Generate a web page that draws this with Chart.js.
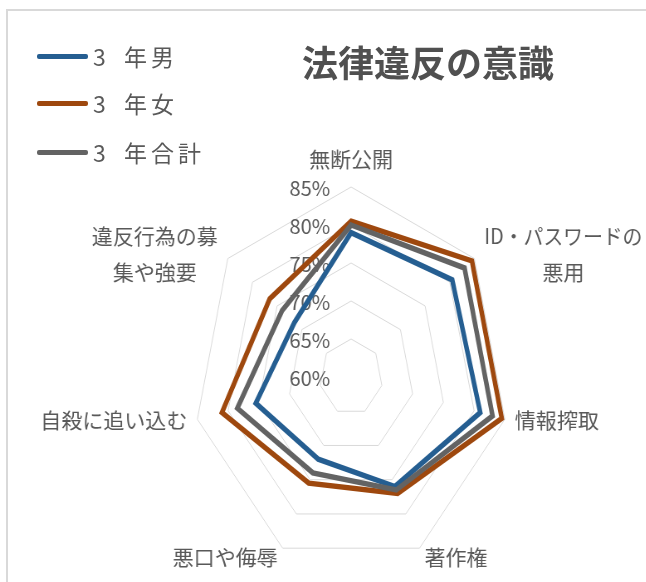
<!DOCTYPE html>
<html>
<head>
<meta charset="utf-8">
<script src="https://cdn.jsdelivr.net/npm/chart.js@4"></script>
<style>
  body { margin: 0; background: #fff; font-family: "Noto Sans CJK JP", sans-serif; }
  #page { position: relative; width: 646px; height: 582px; overflow: hidden; background: #fff; }
  #frame { position: absolute; left: 6px; top: 9px; width: 700px; height: 640px;
           border-top: 2px solid #d9d9d9; border-left: 2px solid #d9d9d9; }
  #wrap { position: absolute; left: 0; top: 0; width: 778px; height: 582px;
          transform: scaleX(0.83); transform-origin: 0 0; }
  #title { position: absolute; left: 228px; width: 400px; top: 41px; text-align: center;
           font-size: 36px; font-weight: bold; color: #505050; line-height: 40px; }
  .item { position: absolute; left: 37px; height: 30px; white-space: nowrap; }
  .item i { position: absolute; left: 0; top: 13px; width: 51px; height: 5px; border-radius: 2px; }
  .item span { position: absolute; left: 56px; top: 0; font-size: 23px; line-height: 30px;
               letter-spacing: 4px; word-spacing: 5px; color: #595959; }
</style>
</head>
<body>
<div id="page">
  <div id="frame"></div>
  <div id="wrap"><canvas id="radar"></canvas></div>
  <div id="title">法律違反の意識</div>
  <div id="legend"></div>
</div>
<script>
// horizontal squeeze of the plot (the reference heptagon is narrower than tall)
const SX = 0.83;

// categories, clockwise from the top
const categories = [
  '無断公開',
  ['ID・パスワードの', '悪用'],
  '情報搾取',
  '著作権',
  '悪口や侮辱',
  '自殺に追い込む',
  ['違反行為の募', '集や強要']
];
const tickValues = [60, 65, 70, 75, 80, 85];

const seriesNames = ['3 年男', '3 年女', '3 年合計'];
const boys  = [79, 80.5, 81, 76, 72, 75.5, 71.5];
const girls = [80.5, 84.5, 84.5, 77, 75.5, 81, 76.5];
const total = [80, 83, 83, 76.5, 74, 78.5, 74];
const colors = ['#255e91', '#9e480e', '#636363'];

// legend (html)
const legendTops = [41, 88, 137];
seriesNames.forEach((name, i) => {
  const d = document.createElement('div');
  d.className = 'item';
  d.style.top = legendTops[i] + 'px';
  d.innerHTML = '<i style="background:' + colors[i] + '"></i><span>' + name + '</span>';
  document.getElementById('legend').appendChild(d);
});

// draws tick labels and category labels without the horizontal squeeze
const labelPlugin = {
  id: 'radarText',
  beforeDatasetsDraw(chart) {
    const r = chart.scales.r;
    const ctx = chart.ctx;
    ctx.save();
    ctx.font = '20px "Noto Sans CJK JP"';
    ctx.fillStyle = '#595959';
    ctx.textAlign = 'right';
    ctx.textBaseline = 'middle';
    tickValues.forEach(v => {
      const p = r.getPointPositionForValue(0, v);
      ctx.save();
      ctx.translate(p.x, p.y);
      ctx.scale(1 / SX, 1);
      ctx.fillText(v + '%', -21, 1);
      ctx.restore();
    });
    ctx.restore();
  },
  afterDraw(chart) {
    const r = chart.scales.r;
    const ctx = chart.ctx;
    const maxW = 158; // wider lines get narrowed to this
    ctx.save();
    ctx.font = '21px "Noto Sans CJK JP"';
    ctx.fillStyle = '#595959';
    ctx.textAlign = 'center';
    ctx.textBaseline = 'middle';
    categories.forEach((label, i) => {
      const lines = [].concat(label);
      const p = r.getPointPosition(i, r.drawingArea);
      const dx = p.x - r.xCenter, dy = p.y - r.yCenter;
      const widths = lines.map(l => ctx.measureText(l).width);
      const bw = Math.min(maxW, Math.max(...widths));
      const lh = 36;
      let cx, cy;
      if (Math.abs(dx) < 1) { cx = 0; cy = -28; }
      else if (dy > 100) { cx = dx > 0 ? 5 + bw / 2 : -5 - bw / 2; cy = 9; }
      else { cx = dx > 0 ? 10 + bw / 2 : -10 - bw / 2; cy = lines.length > 1 ? -5 : 1; }
      lines.forEach((l, k) => {
        const f = Math.min(1, maxW / widths[k]);
        ctx.save();
        ctx.translate(p.x, p.y);
        ctx.scale(1 / SX, 1);
        ctx.translate(cx, cy + (k - (lines.length - 1) / 2) * lh);
        ctx.scale(f, 1);
        ctx.fillText(l, 0, 0);
        ctx.restore();
      });
    });
    ctx.restore();
  }
};

const series = [boys, girls, total];
new Chart(document.getElementById('radar'), {
  type: 'radar',
  data: {
    labels: categories,
    datasets: series.map((data, i) => ({
      label: seriesNames[i],
      data: data,
      borderColor: colors[i],
      backgroundColor: colors[i],
      fill: false,
      order: 3 - i
    }))
  },
  options: {
    responsive: true,
    maintainAspectRatio: false,
    animation: false,
    layout: { padding: { left: 233, right: 165, top: 187, bottom: 15 } },
    plugins: { legend: { display: false }, tooltip: { enabled: false } },
    elements: {
      line: { borderWidth: 5.5, tension: 0, borderJoinStyle: 'miter' },
      point: { radius: 0, hoverRadius: 0 }
    },
    scales: {
      r: {
        min: 60,
        max: 85,
        ticks: { stepSize: 5, display: false },
        grid: { color: '#d9d9d9', lineWidth: 1 },
        angleLines: { display: false },
        pointLabels: { display: false }
      }
    }
  },
  plugins: [labelPlugin]
});
</script>
</body>
</html>
